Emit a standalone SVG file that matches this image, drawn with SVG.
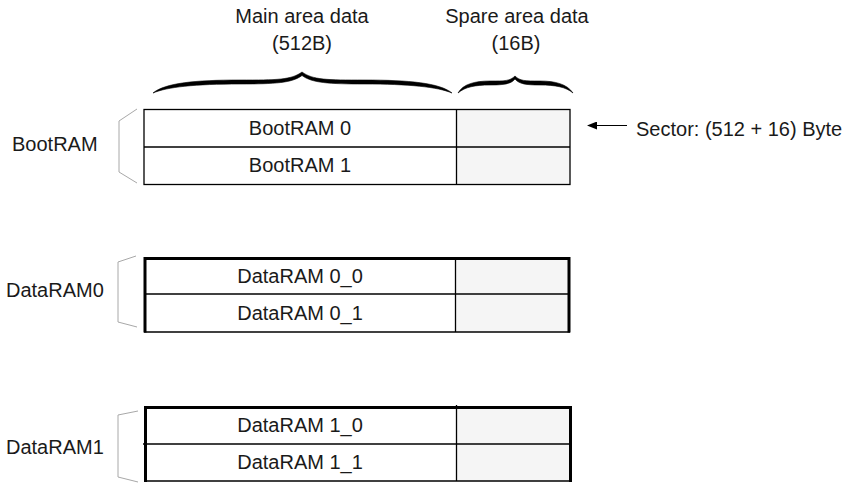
<svg xmlns="http://www.w3.org/2000/svg" width="855" height="483" viewBox="0 0 855 483">
<defs>
<style>
text{font-family:"Liberation Sans",Arial,sans-serif;font-size:20px;fill:#1a1a1a}
.c{text-anchor:middle}
.thin{fill:none;stroke:#000;stroke-width:1.3}
.thick{fill:none;stroke:#000;stroke-width:3}
.spare{fill:#f5f5f5;stroke:none}
.brk{fill:none;stroke:#a8a8a8;stroke-width:1}
.brace{fill:#000;stroke:#000;stroke-width:0.6;stroke-linejoin:round}
</style>
<marker id="ah" markerWidth="10" markerHeight="8" refX="9" refY="4" orient="auto" markerUnits="userSpaceOnUse">
<path d="M0,0 L10,4 L0,8 Z" fill="#000"/>
</marker>
</defs>
<rect width="855" height="483" fill="#fff"/>

<g id="headers">
<text class="c" x="302" y="23">Main area data</text>
<text class="c" x="302" y="50">(512B)</text>
<text class="c" x="517" y="23">Spare area data</text>
<text class="c" x="516" y="50">(16B)</text>
<path class="brace" d="M153,93 C165,83 195,80 240,80 C277,80 291,80 302,72 C313,80 327,80 364,80 C409,80 440,83 452,93 C438,87 409,84 364,84 C329,84 312,83 302,75.5 C292,83 275,84 240,84 C195,84 167,87 153,93 Z"/>
<path class="brace" d="M458,93 C463,84 475,81 490,81 C505,81 510,81 515,76 C520,81 525,81 540,81 C555,81 567,84 573,93 C566,87 555,85 540,85 C526,85 519,84 515,79 C511,84 504,85 490,85 C475,85 465,87 458,93 Z"/>
</g>

<g id="bootram">
<text x="12" y="151">BootRAM</text>
<polyline class="brk" points="137,109 119,121 119,172 137,183"/>
<rect class="spare" x="456.5" y="109.5" width="113.5" height="75"/>
<rect class="thin" x="144" y="109.5" width="426" height="75"/>
<line class="thin" x1="144" y1="147" x2="570" y2="147"/>
<line class="thin" x1="456.5" y1="109.5" x2="456.5" y2="184.5"/>
<text class="c" x="300" y="135">BootRAM 0</text>
<text class="c" x="300" y="172">BootRAM 1</text>
</g>

<g id="dataram0">
<text x="6" y="297">DataRAM0</text>
<polyline class="brk" points="136,256 118,262 118,322 137,327"/>
<rect class="spare" x="455" y="258" width="114" height="74"/>
<line class="thin" x1="144" y1="332" x2="570" y2="332"/>
<line class="thin" x1="144" y1="294" x2="569" y2="294"/>
<line class="thin" x1="455.5" y1="258" x2="455.5" y2="332"/>
<polyline class="thick" points="145,332.5 145,258.5 569,258.5 569,332.5"/>
<text class="c" x="300" y="283">DataRAM 0_0</text>
<text class="c" x="300" y="320">DataRAM 0_1</text>
</g>

<g id="dataram1">
<text x="6" y="454">DataRAM1</text>
<polyline class="brk" points="138,411 118,415 118,477 138,482"/>
<rect class="spare" x="456" y="407" width="114" height="74"/>
<line class="thin" x1="144" y1="481" x2="571" y2="481"/>
<line class="thin" x1="143" y1="444" x2="570" y2="444"/>
<line class="thin" x1="456.5" y1="405" x2="456.5" y2="481"/>
<polyline class="thick" points="145.5,482 145.5,407.5 570.5,407.5 570.5,482"/>
<text class="c" x="300" y="432">DataRAM 1_0</text>
<text class="c" x="300" y="469">DataRAM 1_1</text>
</g>

<g id="connectors">
<line x1="627" y1="125.5" x2="588" y2="125.5" stroke="#000" stroke-width="1.2" marker-end="url(#ah)"/>
</g>
<g id="sector-label">
<text x="636" y="135.5">Sector: (512 + 16) Byte</text>
</g>
</svg>
